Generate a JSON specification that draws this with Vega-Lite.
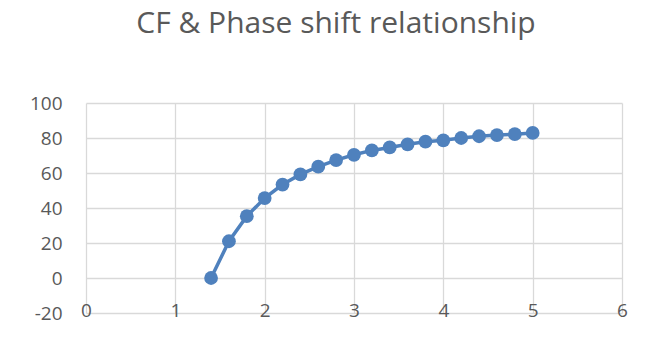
{
  "$schema": "https://vega.github.io/schema/vega-lite/v6.json",
  "autosize": "none",
  "width": 536,
  "height": 210,
  "padding": {"left": 86, "top": 103, "right": 23, "bottom": 27},
  "background": "white",
  "title": {
    "text": "CF & Phase shift relationship",
    "font": "Open Sans",
    "fontSize": 30,
    "fontWeight": "normal",
    "color": "#595959",
    "anchor": "middle",
    "dx": -18,
    "offset": 31,
    "baseline": "alphabetic"
  },
  "config": {
    "view": {"stroke": null},
    "axis": {
      "labelFont": "Open Sans",
      "labelFontSize": 19,
      "labelColor": "#595959",
      "gridColor": "#d9d9d9",
      "gridWidth": 1.3,
      "domain": false,
      "ticks": false,
      "title": null
    }
  },
  "data": {
    "values": [
      {"x": 1.4, "y": 0},
      {"x": 1.6, "y": 21},
      {"x": 1.8, "y": 35.3},
      {"x": 2.0, "y": 45.7},
      {"x": 2.2, "y": 53.4},
      {"x": 2.4, "y": 59.2},
      {"x": 2.6, "y": 63.6},
      {"x": 2.8, "y": 67.4},
      {"x": 3.0, "y": 70.4},
      {"x": 3.2, "y": 72.9},
      {"x": 3.4, "y": 74.6},
      {"x": 3.6, "y": 76.4},
      {"x": 3.8, "y": 77.9},
      {"x": 4.0, "y": 78.7},
      {"x": 4.2, "y": 80},
      {"x": 4.4, "y": 81},
      {"x": 4.6, "y": 81.7},
      {"x": 4.8, "y": 82.2},
      {"x": 5.0, "y": 82.9}
    ]
  },
  "encoding": {
    "x": {
      "field": "x",
      "type": "quantitative",
      "scale": {"domain": [0, 6], "nice": false, "zero": false},
      "axis": {"values": [0, 1, 2, 3, 4, 5, 6], "labelBaseline": "middle", "labelPadding": -3, "labelFlush": false}
    },
    "y": {
      "field": "y",
      "type": "quantitative",
      "scale": {"domain": [-20, 100], "nice": false},
      "axis": {"values": [-20, 0, 20, 40, 60, 80, 100], "labelPadding": 24, "labelFlush": false, "labelExpr": "'' + datum.value"}
    }
  },
  "layer": [
    {
      "mark": {"type": "line", "color": "#4f81bd", "strokeWidth": 3.5, "point": {"filled": true, "size": 190, "color": "#4f81bd", "opacity": 1}}
    }
  ]
}
